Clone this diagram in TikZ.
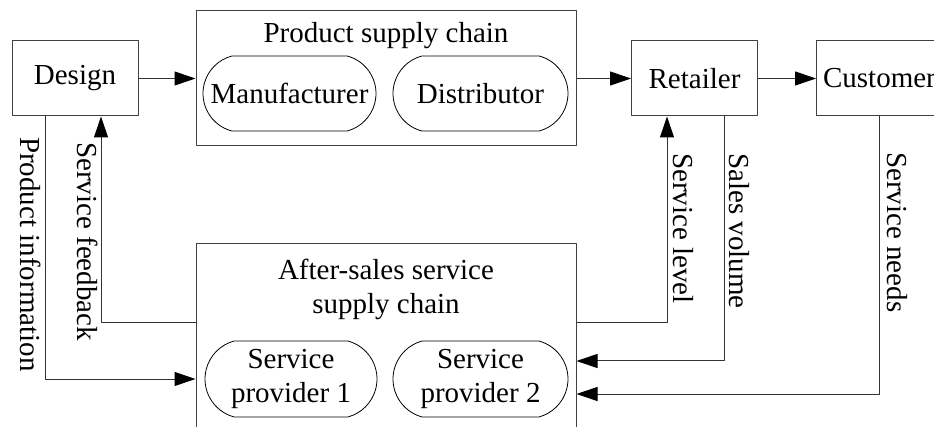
\documentclass[tikz,border=0pt]{standalone}
\usepackage{fontspec}
\setmainfont{Liberation Serif}
\usetikzlibrary{arrows.meta,shapes.misc,positioning}
\begin{document}
\begin{tikzpicture}[x=1pt, y=-1pt, font=\fontsize{29}{34}\selectfont, line join=round,
		box/.style={draw=black!75, line width=1pt, minimum width=126pt, minimum height=75pt, inner sep=0pt},
		pill/.style={draw, rounded rectangle, rounded rectangle arc length=150, line width=0.8pt, minimum height=75pt, inner sep=0pt, align=center},
		link/.style={draw=black!80, line width=1pt, -{Triangle[length=21pt,width=14pt,black]}},
		tag/.style={rotate=-90, anchor=west, inner sep=0pt}]
				\clip (0,0) rectangle (934,427);
				% top row
				\node[box] (design) at (75,78.5) {Design};
				\node[box, minimum width=380pt, minimum height=135pt] (psc) at (386,78.5) {};
				\node[anchor=base] at (386,43) {Product supply chain};
				\node[pill, minimum width=173pt] (manu) at (289.5,93.5) {Manufacturer};
				\node[pill, minimum width=175pt] (dist) at (480.5,93.5) {Distributor};
				\node[box] (retailer) at (694.5,78.5) {Retailer};
				\node[box] (customer) at (879.5,78.5) {Customer\hspace{5pt}};
				% after-sales
				\node[box, minimum width=380pt, minimum height=192pt] (asc) at (386,340) {};
				\node[anchor=base] at (386,280) {After-sales service};
				\node[anchor=base] at (386,314) {supply chain};
				\node[pill, minimum width=172pt, minimum height=76pt] (sp1) at (291,379) {Service\\provider 1};
				\node[pill, minimum width=175pt, minimum height=76pt] (sp2) at (480.5,379) {Service\\provider 2};
				% flows
				\draw[link] (design) -- (psc);
				\draw[link] (psc) -- (retailer);
				\draw[link] (retailer) -- (customer);
				\draw[link] ([xshift=-30pt]design.south) |- (asc.west |- 0,379);
				\draw[link] (asc.west |- 0,323) -| ([xshift=26pt]design.south);
				\draw[link] (asc.east |- 0,323) -| ([xshift=-27.5pt]retailer.south);
				\draw[link] ([xshift=29.5pt]retailer.south) |- (asc.east |- 0,361);
				\draw[link] (customer.south) |- (asc.east |- 0,394);
				\node[tag] at (31,137) {Product information};
				\node[tag] at (88,142) {Service feedback};
				\node[tag] at (683,153) {Service level};
				\node[tag] at (739,153) {Sales volume};
				\node[tag] at (897,152) {Service needs};
\end{tikzpicture}
\end{document}
